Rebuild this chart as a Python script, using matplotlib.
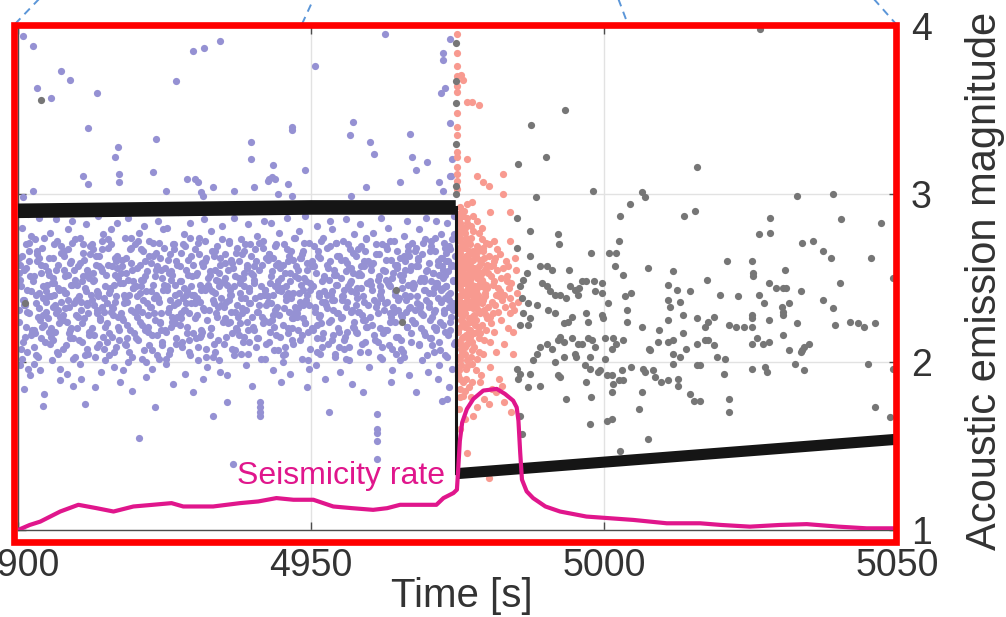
import matplotlib
matplotlib.use('Agg')
import matplotlib.pyplot as plt
from matplotlib.patches import Rectangle
from matplotlib.lines import Line2D

plt.rcParams['font.family'] = ['Liberation Sans', 'DejaVu Sans']

# ---------------- data ----------------
x_ticks = [4900, 4950, 5000, 5050]
y_ticks = [1, 2, 3, 4]

# shear stress proxy (black band)
stress_pre_t = [4900.0, 4925.0, 4950.0, 4974.7]
stress_pre_v = [2.90, 2.91, 2.92, 2.92]
drop_t = [4974.7, 4974.7]
drop_v = [2.92, 1.34]
stress_post_t = [4974.7, 5050.0]
stress_post_v = [1.335, 1.54]

# seismicity rate (magenta)
rate_t = [4900.0, 4902.0, 4903.8, 4905.5, 4907.2, 4910.3, 4913.4, 4916.3, 4919.7, 4923.0,
          4926.2, 4928.2, 4933.3, 4937.9, 4941.0, 4944.1, 4947.0, 4950.4, 4953.8, 4957.0,
          4960.6, 4963.0, 4965.2, 4968.5, 4971.4, 4972.6, 4974.3, 4974.9, 4975.1, 4975.4,
          4975.8, 4976.6, 4977.7, 4979.4, 4981.7, 4983.1, 4984.5, 4985.1, 4985.4, 4985.7,
          4986.0, 4986.8, 4987.9, 4990.0, 4992.5, 4997.0, 5001.0, 5005.0, 5010.7, 5016.4,
          5020.0, 5024.9, 5030.0, 5034.6, 5040.0, 5044.8, 5050.0]
rate_v = [1.00, 1.03, 1.05, 1.08, 1.11, 1.15, 1.13, 1.11, 1.14, 1.15,
          1.16, 1.14, 1.14, 1.16, 1.17, 1.19, 1.18, 1.18, 1.14, 1.13,
          1.12, 1.13, 1.15, 1.15, 1.15, 1.19, 1.22, 1.24, 1.35, 1.53,
          1.64, 1.72, 1.78, 1.83, 1.84, 1.81, 1.77, 1.73, 1.65, 1.46,
          1.30, 1.23, 1.19, 1.14, 1.11, 1.08, 1.07, 1.06, 1.04, 1.04,
          1.03, 1.02, 1.03, 1.035, 1.02, 1.01, 1.01]

# acoustic emission events before the slip (purple), first set
purple_t = [
 4900.1,4900.2,4900.4,4900.5,4900.6,4900.8,4900.9,4901.0,4901.1,4901.3,4901.4,4901.5,4901.6,4901.8,4901.9,4902.0,4902.1,4902.3,4902.4,4900.3,4900.7,4901.2,4901.7,4902.2,
 4902.6,4902.7,4902.9,4903.0,4903.1,4903.3,4903.4,4903.5,4903.6,4903.8,4903.9,4904.0,4904.1,4904.3,4904.4,4904.5,4904.6,4904.8,4904.9,4902.8,4903.2,4903.7,4904.2,4904.7,
 4905.1,4905.2,4905.4,4905.5,4905.6,4905.8,4905.9,4906.0,4906.1,4906.3,4906.4,4906.5,4906.6,4906.8,4906.9,4907.0,4907.1,4907.3,4907.4,4905.3,4905.7,4906.2,4906.7,4907.2,
 4907.6,4907.7,4907.9,4908.0,4908.1,4908.3,4908.4,4908.5,4908.6,4908.8,4908.9,4909.0,4909.1,4909.3,4909.4,4909.5,4909.6,4909.8,4909.9,4907.8,4908.2,4908.7,4909.2,4909.7,
 4910.1,4910.2,4910.4,4910.5,4910.6,4910.8,4910.9,4911.0,4911.1,4911.3,4911.4,4911.5,4911.6,4911.8,4911.9,4912.0,4912.1,4912.3,4912.4,4910.3,4910.7,4911.2,4911.7,4912.2,
 4912.6,4912.7,4912.9,4913.0,4913.1,4913.3,4913.4,4913.5,4913.6,4913.8,4913.9,4914.0,4914.1,4914.3,4914.4,4914.5,4914.6,4914.8,4914.9,4912.8,4913.2,4913.7,4914.2,4914.7,
 4915.1,4915.2,4915.4,4915.5,4915.6,4915.8,4915.9,4916.0,4916.1,4916.3,4916.4,4916.5,4916.6,4916.8,4916.9,4917.0,4917.1,4917.3,4917.4,4915.3,4915.7,4916.2,4916.7,4917.2,
 4917.6,4917.7,4917.9,4918.0,4918.1,4918.3,4918.4,4918.5,4918.6,4918.8,4918.9,4919.0,4919.1,4919.3,4919.4,4919.5,4919.6,4919.8,4919.9,4917.8,4918.2,4918.7,4919.2,4919.7,
 4920.1,4920.2,4920.4,4920.5,4920.6,4920.8,4920.9,4921.0,4921.1,4921.3,4921.4,4921.5,4921.6,4921.8,4921.9,4922.0,4922.1,4922.3,4922.4,4920.3,4920.7,4921.2,4921.7,4922.2,
 4922.6,4922.7,4922.9,4923.0,4923.1,4923.3,4923.4,4923.5,4923.6,4923.8,4923.9,4924.0,4924.1,4924.3,4924.4,4924.5,4924.6,4924.8,4924.9,4922.8,4923.2,4923.7,4924.2,4924.7,
 4925.1,4925.2,4925.4,4925.5,4925.6,4925.8,4925.9,4926.0,4926.1,4926.3,4926.4,4926.5,4926.6,4926.8,4926.9,4927.0,4927.1,4927.3,4927.4,4925.3,4925.7,4926.2,4926.7,4927.2,
 4927.6,4927.7,4927.9,4928.0,4928.1,4928.3,4928.4,4928.5,4928.6,4928.8,4928.9,4929.0,4929.1,4929.3,4929.4,4929.5,4929.6,4929.8,4929.9,4927.8,4928.2,4928.7,4929.2,4929.7,
 4930.1,4930.2,4930.4,4930.5,4930.6,4930.8,4930.9,4931.0,4931.1,4931.3,4931.4,4931.5,4931.6,4931.8,4931.9,4932.0,4932.1,4932.3,4932.4,4930.3,4930.7,4931.2,4931.7,4932.2,
 4932.6,4932.7,4932.9,4933.0,4933.1,4933.3,4933.4,4933.5,4933.6,4933.8,4933.9,4934.0,4934.1,4934.3,4934.4,4934.5,4934.6,4934.8,4934.9,4932.8,4933.2,4933.7,4934.2,4934.7,
 4935.1,4935.2,4935.4,4935.5,4935.6,4935.8,4935.9,4936.0,4936.1,4936.7,4936.4,4936.5,4936.6,4936.8,4936.9,4937.0,4937.1,4937.3,4937.4,4935.3,4935.7,4936.2,4936.3,4937.2,
 4937.6,4937.7,4937.9,4938.0,4938.1,4938.3,4938.4,4938.5,4938.6,4938.8,4938.9,4939.0,4939.1,4939.3,4939.4,4939.5,4939.6,4939.8,4939.9,4937.8,4938.2,4938.7,4939.2,4939.7,
 4940.1,4940.2,4940.4,4940.5,4940.6,4940.8,4940.9,4941.3,4941.3,4941.3,4941.3,4941.5,4941.6,4941.8,4941.9,4942.0,4942.1,4942.3,4942.4,4940.3,4940.7,4941.2,4941.7,4942.2,
 4942.6,4942.7,4942.9,4943.0,4943.1,4943.3,4943.4,4943.5,4943.6,4943.8,4943.9,4944.0,4944.1,4944.3,4944.4,4944.5,4944.6,4944.8,4944.9,4942.8,4943.2,4943.7,4944.2,4944.7,
 4945.1,4945.2,4945.4,4945.5,4945.6,4945.8,4945.9,4946.0,4946.1,4946.3,4946.4,4946.5,4946.6,4946.8,4946.9,4947.0,4947.1,4947.3,4947.4,4945.3,4945.7,4946.2,4946.7,4947.2,
 4947.6,4947.7,4947.9,4948.0,4948.1,4948.3,4948.4,4948.5,4948.6,4948.8,4948.9,4949.0,4949.1,4949.3,4949.4,4949.5,4949.6,4949.8,4949.9,4947.8,4948.2,4948.7,4949.2,4949.7,
 4950.1,4950.2,4950.4,4950.5,4950.6,4950.8,4950.9,4951.0,4951.1,4951.3,4951.4,4951.5,4951.6,4951.8,4951.9,4952.0,4952.1,4952.3,4952.4,4950.3,4950.7,4951.2,4951.7,4952.2,
 4952.6,4952.7,4952.9,4953.0,4953.1,4953.3,4953.4,4953.5,4953.6,4953.8,4953.9,4954.0,4954.1,4954.3,4954.4,4954.5,4954.6,4954.8,4954.9,4952.8,4953.2,4953.7,4954.2,4954.7,
 4955.1,4955.2,4955.4,4955.5,4955.6,4955.8,4955.9,4956.0,4956.1,4956.3,4956.4,4956.5,4956.6,4956.8,4956.9,4957.0,4957.1,4957.3,4957.4,4955.3,4955.7,4956.2,4956.7,4957.2,
 4957.6,4957.7,4957.9,4958.0,4958.1,4958.3,4958.4,4958.5,4958.6,4958.8,4958.9,4959.0,4959.1,4959.3,4959.4,4959.5,4959.6,4959.8,4959.9,4957.8,4958.2,4958.7,4959.2,4959.7,
 4960.1,4960.2,4960.4,4961.2,4961.2,4961.2,4961.2,4961.2,4961.1,4961.3,4961.4,4961.5,4961.6,4961.8,4961.9,4962.0,4962.1,4962.3,4962.4,4960.3,4960.7,4960.5,4961.7,4962.2,
 4962.6,4962.7,4962.9,4963.0,4963.1,4963.3,4963.4,4963.5,4963.6,4963.8,4963.9,4964.0,4964.1,4964.3,4964.4,4964.5,4964.6,4964.8,4964.9,4962.8,4963.2,4963.7,4964.2,4964.7,
 4965.1,4965.2,4965.4,4965.5,4965.6,4965.8,4965.9,4966.0,4966.1,4966.3,4966.4,4966.5,4966.6,4966.8,4966.9,4967.0,4967.1,4967.3,4967.4,4965.3,4965.7,4966.2,4966.7,4967.2,
 4967.6,4967.7,4967.9,4968.0,4968.1,4968.3,4968.4,4968.5,4968.6,4968.8,4968.9,4969.0,4969.1,4969.3,4969.4,4969.5,4969.6,4969.8,4969.9,4967.8,4968.2,4968.7,4969.2,4969.7,
 4970.1,4970.2,4970.3,4970.4,4970.5,4970.6,4972.3,4970.8,4970.9,4971.0,4971.1,4971.2,4971.3,4971.4,4971.5,4971.6,4971.7,4971.8,4971.9,4972.0,4972.1,4972.2,4970.7,4972.4,4970.15,4970.55,4970.95,4971.35,4971.75,4972.15,
 4972.5,4972.6,4972.7,4972.8,4972.9,4973.0,4973.1,4973.2,4973.3,4973.4,4973.5,4973.6,4973.7,4973.8,4973.9,4974.0,4974.1,4974.2,4974.3,4974.4,4974.5,4974.6,4972.55,4972.75,4972.95,4973.15,4973.35,4973.55,4973.75,4973.95,4974.15,4974.35,
]
purple_m = [
 2.31,2.62,1.98,2.45,2.80,2.12,2.37,2.55,1.84,2.70,2.21,2.43,2.06,2.66,2.29,2.51,1.92,2.75,2.18,2.58,2.02,2.34,2.88,2.16,
 2.48,2.19,2.73,2.35,2.04,2.60,2.27,2.86,2.41,1.95,2.53,2.14,2.68,2.38,2.22,1.81,2.57,2.30,2.46,2.09,2.64,2.25,1.74,2.42,
 2.26,2.54,2.11,2.77,2.39,2.01,2.62,2.33,2.47,2.18,2.85,2.29,2.06,2.58,2.44,2.23,1.89,2.69,2.36,2.52,2.15,2.40,2.72,1.96,
 2.43,2.08,2.66,2.32,2.51,1.93,2.24,2.79,2.37,2.14,2.59,2.46,2.20,2.71,1.86,2.35,2.55,2.03,2.28,2.63,2.41,2.17,2.84,2.49,
 2.20,2.57,2.39,1.99,2.74,2.31,2.48,2.12,2.65,2.26,1.75,2.44,2.82,2.35,2.05,2.53,2.18,2.69,2.40,2.27,1.90,2.61,2.34,2.50,
 2.37,2.70,2.16,2.49,2.03,2.58,2.29,2.42,2.87,2.11,2.63,2.25,1.94,2.54,2.33,2.76,2.08,2.45,2.21,2.67,1.85,2.39,2.56,2.30,
 2.52,2.23,2.68,2.04,2.41,2.79,2.30,2.15,2.57,1.97,2.46,2.36,2.62,2.09,2.83,2.27,2.50,2.19,1.88,2.73,2.43,2.32,2.60,2.13,
 2.29,2.61,1.95,2.47,2.35,2.74,2.10,2.53,2.22,2.86,2.40,2.06,2.67,2.31,1.83,2.55,2.44,2.17,2.70,2.26,2.38,2.00,2.59,2.48,
 2.45,2.14,2.72,2.33,1.55,2.58,2.24,2.49,2.02,2.66,2.37,2.81,2.19,2.42,1.91,2.54,2.28,2.63,2.10,2.39,2.77,2.30,2.51,2.21,
 2.33,2.59,2.07,2.46,2.71,2.25,1.73,2.40,2.55,2.16,2.84,2.36,2.02,2.62,2.29,2.50,2.12,2.43,2.68,1.96,2.38,2.57,2.23,2.79,
 2.56,2.18,2.43,2.80,2.30,2.05,2.64,2.37,2.21,2.52,1.87,2.70,2.34,2.46,2.11,2.60,2.27,2.89,2.41,1.99,2.53,2.24,2.67,2.35,
 2.22,2.48,2.65,2.09,2.38,2.76,2.31,1.93,2.55,2.42,2.17,2.61,2.29,2.83,2.04,2.45,2.35,2.58,1.82,2.26,2.70,2.40,2.13,2.51,
 2.40,2.67,2.14,2.53,2.28,2.01,2.74,2.36,2.46,2.19,2.59,2.32,1.90,2.85,2.43,2.08,2.62,2.25,2.50,2.37,2.71,2.16,2.44,1.97,
 2.31,2.54,2.20,2.78,2.42,1.68,2.63,2.35,2.06,2.49,2.27,2.69,2.13,2.45,2.58,1.94,2.38,2.81,2.24,2.52,2.03,2.66,2.33,2.47,
 2.48,2.11,2.64,2.36,1.76,2.55,2.23,2.72,2.40,1.39,2.30,2.59,2.17,2.45,2.86,2.07,2.51,2.34,2.68,2.26,1.92,2.43,2.61,2.20,
 2.27,2.60,2.41,2.05,2.73,2.32,2.50,2.15,2.66,2.38,1.98,2.56,2.24,2.82,2.44,2.12,2.35,2.63,1.86,2.47,2.29,2.70,2.19,2.53,
 2.52,2.19,2.67,2.38,2.09,2.75,2.30,1.76,1.73,1.70,1.68,2.45,2.58,2.23,2.84,2.40,2.02,2.62,2.34,2.49,2.14,2.71,2.27,2.43,
 2.36,2.61,2.12,2.47,2.83,2.25,2.54,1.95,2.40,2.69,2.31,2.16,2.58,2.43,2.07,2.77,2.28,2.50,1.88,2.64,2.35,2.21,2.46,2.56,
 2.44,2.22,2.70,2.05,2.53,2.37,2.86,2.17,2.60,2.30,1.93,2.48,2.66,2.26,2.41,2.11,2.74,2.33,2.57,2.00,2.39,2.63,2.20,2.51,
 2.29,2.55,2.41,2.78,2.13,2.46,2.02,2.64,2.34,2.50,2.23,2.87,2.37,1.85,2.59,2.18,2.71,2.43,2.08,2.32,2.62,2.26,2.48,1.96,
 2.57,2.20,2.45,2.69,2.32,1.98,2.53,2.14,2.81,2.39,2.27,2.62,2.05,2.48,2.36,2.74,2.17,2.42,1.90,2.58,2.30,2.66,2.23,2.51,
 2.34,2.68,2.11,2.49,1.70,2.60,2.25,2.42,2.79,2.16,2.55,2.37,2.03,2.71,2.29,2.46,2.20,2.63,1.94,2.40,2.84,2.31,2.52,2.09,
 2.50,2.26,2.72,2.39,2.08,2.61,2.33,2.85,2.18,2.45,2.56,2.01,2.67,2.30,2.42,1.87,2.53,2.24,2.76,2.37,2.13,2.59,2.47,2.21,
 2.41,2.63,2.17,2.52,2.30,2.82,2.06,2.44,2.69,2.25,1.82,2.57,2.36,2.12,2.74,2.47,2.21,2.60,1.97,2.38,2.53,2.28,2.66,2.34,
 2.27,2.58,2.43,1.69,1.60,1.58,1.53,1.42,2.70,2.35,2.12,2.49,2.64,2.20,2.86,2.38,2.02,2.55,2.31,2.46,2.16,2.77,2.40,2.09,
 2.54,2.19,2.67,2.36,2.80,2.10,2.45,2.29,2.61,1.95,2.50,2.33,2.72,2.24,2.42,2.05,2.58,2.37,2.15,2.69,2.47,1.88,2.30,2.56,
 2.38,2.62,2.13,2.49,2.27,2.75,2.03,2.55,2.40,2.84,2.21,2.46,2.66,1.92,2.33,2.57,2.17,2.71,2.44,2.08,2.52,2.30,2.63,2.25,
 2.46,2.23,2.68,1.82,2.39,2.57,2.11,2.79,2.34,2.50,2.01,2.64,2.28,2.43,2.16,2.73,2.37,2.55,1.94,2.31,2.61,2.20,2.48,2.86,
 2.35,2.59,2.14,2.48,2.72,2.27,1.77,2.53,2.41,2.06,2.66,2.31,2.84,2.19,2.45,2.38,2.60,1.98,2.52,2.24,2.76,2.43,2.10,2.57,2.33,2.69,2.21,2.47,1.90,2.62,
 2.50,2.22,2.71,2.38,2.04,2.60,2.45,2.83,2.16,2.54,2.33,1.85,2.67,2.41,2.27,2.58,1.96,2.48,2.35,2.76,2.12,2.63,2.44,2.29,2.52,1.78,2.40,2.69,2.19,2.57,2.31,2.87,
]

# purple events, second set (dense core)
purple2_t = [
 4900.15,4900.35,4900.55,4900.75,4900.95,4901.15,4901.35,4901.55,4901.75,4901.95,4902.15,4902.35,4900.25,4901.05,4901.85,
 4902.65,4902.85,4903.05,4903.25,4903.45,4903.65,4903.85,4904.05,4904.25,4904.45,4904.65,4904.85,4902.75,4903.55,4904.35,
 4905.15,4905.35,4905.55,4905.75,4905.95,4906.15,4906.35,4906.55,4906.75,4906.95,4907.15,4907.35,4905.25,4906.05,4906.85,
 4907.65,4907.85,4908.05,4908.25,4908.45,4908.65,4908.85,4909.05,4909.25,4909.45,4909.65,4909.85,4907.75,4908.55,4909.35,
 4910.15,4910.35,4910.55,4910.75,4910.95,4911.15,4911.35,4911.55,4911.75,4911.95,4912.15,4912.35,4910.25,4911.05,4911.85,
 4912.65,4912.85,4913.05,4913.25,4913.45,4913.65,4913.85,4914.05,4914.25,4914.45,4914.65,4914.85,4912.75,4913.55,4914.35,
 4915.15,4915.35,4915.55,4915.75,4915.95,4916.15,4916.35,4916.55,4916.75,4916.95,4917.15,4917.35,4915.25,4916.05,4916.85,
 4917.65,4917.85,4918.05,4918.25,4918.45,4918.65,4918.85,4919.05,4919.25,4919.45,4919.65,4919.85,4917.75,4918.55,4919.35,
 4920.15,4920.35,4920.55,4920.75,4920.95,4921.15,4921.35,4921.55,4921.75,4921.95,4922.15,4922.35,4920.25,4921.05,4921.85,
 4922.65,4922.85,4923.05,4923.25,4923.45,4923.65,4923.85,4924.05,4924.25,4924.45,4924.65,4924.85,4922.75,4923.55,4924.35,
 4925.15,4925.35,4925.55,4925.75,4925.95,4926.15,4926.35,4926.55,4926.75,4926.95,4927.15,4927.35,4925.25,4926.05,4926.85,
 4927.65,4927.85,4928.05,4928.25,4928.45,4928.65,4928.85,4929.05,4929.25,4929.45,4929.65,4929.85,4927.75,4928.55,4929.35,
 4930.15,4930.35,4930.55,4930.75,4930.95,4931.15,4931.35,4931.55,4931.75,4931.95,4932.15,4932.35,4930.25,4931.05,4931.85,
 4932.65,4932.85,4933.05,4933.25,4933.45,4933.65,4933.85,4934.05,4934.25,4934.45,4934.65,4934.85,4932.75,4933.55,4934.35,
 4935.15,4935.35,4935.55,4935.75,4935.95,4936.15,4936.35,4936.55,4936.75,4936.95,4937.15,4937.35,4935.25,4936.05,4936.85,
 4937.65,4937.85,4938.05,4938.25,4938.45,4938.65,4938.85,4939.05,4939.25,4939.45,4939.65,4939.85,4937.75,4938.55,4939.35,
 4940.15,4940.35,4940.55,4940.75,4940.95,4941.15,4941.35,4941.55,4941.75,4941.95,4942.15,4942.35,4940.25,4941.05,4941.85,
 4942.65,4942.85,4943.05,4943.25,4943.45,4943.65,4943.85,4944.05,4944.25,4944.45,4944.65,4944.85,4942.75,4943.55,4944.35,
 4945.15,4945.35,4945.55,4945.75,4945.95,4946.15,4946.35,4946.55,4946.75,4946.95,4947.15,4947.35,4945.25,4946.05,4946.85,
 4947.65,4947.85,4948.05,4948.25,4948.45,4948.65,4948.85,4949.05,4949.25,4949.45,4949.65,4949.85,4947.75,4948.55,4949.35,
 4950.15,4950.35,4950.55,4950.75,4950.95,4951.15,4951.35,4951.55,4951.75,4951.95,4952.15,4952.35,4950.25,4951.05,4951.85,
 4952.65,4952.85,4953.05,4953.25,4953.45,4953.65,4953.85,4954.05,4954.25,4954.45,4954.65,4954.85,4952.75,4953.55,4954.35,
 4955.15,4955.35,4955.55,4955.75,4955.95,4956.15,4956.35,4956.55,4956.75,4956.95,4957.15,4957.35,4955.25,4956.05,4956.85,
 4957.65,4957.85,4958.05,4958.25,4958.45,4958.65,4958.85,4959.05,4959.25,4959.45,4959.65,4959.85,4957.75,4958.55,4959.35,
 4960.15,4960.35,4960.55,4960.75,4960.95,4961.15,4961.35,4961.55,4961.75,4961.95,4962.15,4962.35,4960.25,4961.05,4961.85,
 4962.65,4962.85,4963.05,4963.25,4963.45,4963.65,4963.85,4964.05,4964.25,4964.45,4964.65,4964.85,4962.75,4963.55,4964.35,
 4965.15,4965.35,4965.55,4965.75,4965.95,4966.15,4966.35,4966.55,4966.75,4966.95,4967.15,4967.35,4965.25,4966.05,4966.85,
 4967.65,4967.85,4968.05,4968.25,4968.45,4968.65,4968.85,4969.05,4969.25,4969.45,4969.65,4969.85,4967.75,4968.55,4969.35,
 4970.15,4970.35,4970.55,4970.75,4970.95,4971.15,4971.35,4971.55,4971.75,4971.95,4972.15,4972.35,4970.25,4971.05,4971.85,
 4972.6,4972.7,4972.8,4972.9,4973.0,4973.2,4973.4,4973.6,4973.8,4974.0,4974.2,4974.4,4974.5,4974.6,4973.1,
]
purple2_m = [
 2.24,2.49,2.08,2.63,2.37,2.15,2.56,2.30,1.96,2.71,2.42,2.19,2.53,2.34,2.60,
 2.51,2.17,2.40,2.66,2.03,2.32,2.58,2.21,2.45,2.74,2.12,2.36,1.99,2.62,2.28,
 2.39,2.62,2.20,2.47,2.13,2.70,2.34,2.55,2.05,2.43,2.27,2.65,2.18,2.50,2.31,
 2.28,2.55,2.41,2.10,2.67,2.33,2.19,2.60,2.46,2.02,2.73,2.37,2.25,2.52,2.14,
 2.46,2.13,2.59,2.36,2.23,2.70,2.04,2.42,2.55,2.29,2.16,2.64,2.38,2.51,2.08,
 2.20,2.48,2.34,2.63,2.09,2.41,2.57,2.26,2.72,2.15,2.38,2.01,2.53,2.31,2.67,
 2.35,2.58,2.17,2.44,2.70,2.28,2.06,2.52,2.39,2.63,2.21,2.47,2.12,2.33,2.56,
 2.53,2.25,2.40,2.11,2.62,2.36,2.49,2.19,2.74,2.03,2.44,2.30,2.57,2.14,2.68,
 2.30,2.56,2.13,2.41,2.67,2.22,2.49,2.07,2.60,2.35,2.18,2.72,2.27,2.45,2.00,
 2.42,2.16,2.63,2.29,2.51,2.04,2.38,2.71,2.24,2.55,2.10,2.46,2.33,2.65,2.19,
 2.19,2.45,2.61,2.32,2.07,2.54,2.27,2.70,2.40,2.14,2.58,2.36,2.02,2.49,2.23,
 2.57,2.29,2.12,2.44,2.69,2.35,2.21,2.52,2.06,2.63,2.40,2.17,2.48,2.31,2.74,
 2.26,2.52,2.38,2.09,2.64,2.43,2.18,2.57,2.31,2.72,2.03,2.46,2.35,2.15,2.60,
 2.44,2.20,2.66,2.37,2.11,2.55,2.29,2.48,2.01,2.62,2.34,2.73,2.16,2.41,2.53,
 2.33,2.59,2.15,2.46,2.71,2.24,2.40,2.08,2.56,2.30,2.65,2.19,2.50,2.37,2.04,
 2.50,2.23,2.38,2.64,2.12,2.45,2.31,2.58,2.05,2.42,2.70,2.27,2.16,2.53,2.35,
 2.21,2.47,2.60,2.30,2.14,2.55,2.39,2.02,2.68,2.25,2.43,2.11,2.57,2.34,2.72,
 2.39,2.64,2.18,2.51,2.28,2.07,2.45,2.70,2.33,2.59,2.15,2.42,2.24,2.62,2.48,
 2.58,2.32,2.09,2.45,2.67,2.20,2.53,2.38,2.13,2.61,2.29,2.74,2.04,2.41,2.26,
 2.27,2.50,2.36,2.62,2.16,2.43,2.71,2.23,2.55,2.01,2.34,2.47,2.19,2.66,2.40,
 2.45,2.19,2.57,2.33,2.06,2.63,2.41,2.28,2.72,2.14,2.50,2.36,2.60,2.22,2.09,
 2.32,2.56,2.24,2.69,2.40,2.13,2.52,2.05,2.46,2.63,2.29,2.18,2.58,2.37,2.71,
 2.61,2.27,2.43,2.15,2.54,2.36,2.70,2.09,2.48,2.31,2.65,2.20,2.39,2.02,2.56,
 2.18,2.44,2.67,2.30,2.52,2.11,2.39,2.60,2.25,2.73,2.06,2.47,2.34,2.57,2.21,
 2.48,2.22,2.59,2.37,2.13,2.64,2.29,2.51,2.03,2.42,2.70,2.17,2.55,2.33,2.45,
 2.35,2.61,2.19,2.46,2.72,2.27,2.08,2.53,2.40,2.15,2.66,2.31,2.49,2.24,2.58,
 2.52,2.28,2.44,2.06,2.63,2.37,2.21,2.69,2.32,2.55,2.12,2.47,2.01,2.60,2.39,
 2.23,2.57,2.35,2.62,2.10,2.48,2.29,2.71,2.18,2.43,2.54,2.04,2.66,2.33,2.50,
 2.41,2.66,2.14,2.53,2.30,2.74,2.20,2.47,2.58,2.07,2.36,2.62,2.25,2.44,2.12,
 2.55,2.31,2.68,2.18,2.45,2.03,2.60,2.37,2.24,2.73,2.49,2.11,2.57,2.34,2.65,
]

# purple events above the stress band
purple_high = [
 (4900.8,3.94),(4902.6,3.88),(4903.3,3.63),(4905.6,3.57),(4907.3,3.73),(4908.9,3.68),(4913.5,3.60),
 (4912.0,3.39),(4916.6,3.22),(4917.1,3.28),(4917.2,3.12),(4917.3,3.07),(4911.1,3.11),(4912.0,3.06),
 (4902.5,3.02),(4900.8,2.98),(4923.5,3.33),(4923.1,3.13),(4927.0,3.67),(4929.8,3.85),(4931.7,3.87),
 (4934.5,3.91),(4925.3,3.02),(4928.9,3.09),(4930.2,3.09),(4930.8,3.07),(4931.3,3.01),(4931.5,2.99),
 (4933.2,3.04),(4936.9,3.02),(4939.8,3.31),(4939.8,3.21),(4940.2,3.04),(4942.6,3.08),(4942.9,3.09),
 (4943.3,3.10),(4943.6,3.17),(4943.8,3.09),(4944.4,3.00),(4946.0,3.06),(4946.7,3.40),(4946.8,3.38),
 (4946.8,2.99),(4949.0,3.14),(4950.7,3.76),(4956.7,3.35),(4957.1,3.43),(4956.8,2.99),(4959.4,3.04),
 (4960.0,3.31),(4960.7,3.24),(4962.7,3.95),(4965.2,3.07),(4966.9,3.36),(4967.2,3.22),(4967.9,3.14),
 (4969.8,3.19),(4971.8,3.07),(4972.1,3.60),(4972.9,3.63),(4972.5,3.80),(4972.6,3.84),(4973.7,3.92),
 (4973.7,3.42),(4974.0,3.21),(4973.8,3.11),(4973.9,3.11),(4972.6,3.02),
]

# events during the slip (salmon)
salmon_pts = [
 (4974.9,3.95),(4974.9,3.84),(4975.0,3.76),(4974.9,3.70),(4975.0,3.64),(4974.9,3.61),(4975.0,3.48),
 (4974.9,3.40),(4975.0,3.35),(4974.9,3.25),(4975.0,3.22),(4974.9,3.16),(4975.0,3.12),(4974.9,3.08),(4975.0,3.03),
 (4975.6,3.71),(4975.9,3.68),(4976.6,3.55),(4977.5,3.55),(4978.7,3.53),(4976.7,3.21),(4978.3,3.11),
 (4979.4,3.07),(4980.3,3.05),(4982.8,3.12),(4982.8,3.00),(4977.5,2.95),(4976.6,2.94),(4980.5,2.89),
 (4984.0,2.89),(4979.1,2.73),(4981.2,2.72),(4984.0,2.72),
 (4975.1,2.88),(4975.2,2.45),(4975.3,2.12),(4975.1,2.67),(4975.4,2.31),(4975.2,1.95),(4975.5,2.78),
 (4975.3,2.54),(4975.6,2.08),(4975.1,2.36),(4975.7,2.61),(4975.4,2.83),(4975.8,2.22),(4975.2,2.49),
 (4975.9,1.88),(4975.5,2.72),(4975.3,2.03),(4976.0,2.40),(4975.6,2.57),(4975.1,2.18),(4975.7,2.90),
 (4975.4,1.79),(4975.2,2.63),(4975.8,2.27),(4975.5,2.44),(4975.9,2.70),(4975.3,2.85),(4975.6,1.98),
 (4975.1,2.52),(4976.0,2.15),(4975.4,2.59),(4975.7,2.34),(4975.2,2.76),(4975.8,2.06),(4975.5,2.92),
 (4975.3,2.29),(4975.9,2.50),(4975.6,2.81),(4975.1,1.92),(4975.4,2.65),(4975.7,2.10),(4975.2,2.38),
 (4975.8,2.56),(4975.5,1.84),(4976.0,2.24),
 (4976.1,2.47),(4976.2,2.80),(4976.3,2.21),(4976.4,2.63),(4976.5,1.96),(4976.6,2.39),(4976.7,2.71),
 (4976.8,2.14),(4976.9,2.55),(4977.0,2.33),(4976.1,2.90),(4976.3,2.05),(4976.5,2.48),(4976.7,2.86),
 (4976.9,2.26),(4976.2,2.68),(4976.4,1.90),(4976.6,2.42),(4976.8,2.60),(4977.0,2.19),(4976.1,2.35),
 (4976.3,2.77),(4976.5,2.52),(4976.7,2.01),(4976.9,2.66),(4976.2,2.29),(4976.4,2.58),(4976.6,2.11),
 (4976.8,2.44),(4976.3,1.83),(4976.5,2.74),(4976.7,2.37),(4976.9,2.50),(4976.4,2.16),(4976.6,2.62),
 (4977.1,2.58),(4977.2,2.24),(4977.3,2.81),(4977.4,2.40),(4977.5,2.07),(4977.6,2.66),(4977.7,2.32),
 (4977.8,2.53),(4977.9,2.17),(4978.0,2.45),(4977.1,2.36),(4977.3,2.74),(4977.5,2.12),(4977.7,2.61),
 (4977.9,2.28),(4977.2,2.49),(4977.4,1.99),(4977.6,2.87),(4977.8,2.38),(4978.0,2.22),(4977.1,2.70),
 (4977.3,2.03),(4977.5,2.55),(4977.7,2.43),(4977.9,2.64),(4977.2,2.19),(4977.4,2.51),(4977.6,2.34),
 (4977.8,2.09),(4977.5,1.88),
 (4978.1,2.42),(4978.2,2.63),(4978.3,2.18),(4978.4,2.55),(4978.5,2.31),(4978.6,2.77),(4978.7,2.06),
 (4978.8,2.47),(4978.9,2.36),(4979.0,2.59),(4978.1,2.25),(4978.3,2.69),(4978.5,2.40),(4978.7,2.14),
 (4978.9,2.52),(4978.2,2.33),(4978.4,2.84),(4978.6,2.21),(4978.8,2.61),(4979.0,2.45),(4978.2,1.95),
 (4978.5,2.38),(4978.7,2.57),(4978.4,2.02),(4978.9,2.29),
 (4979.1,2.49),(4979.2,2.22),(4979.3,2.66),(4979.4,2.37),(4979.5,2.54),(4979.6,2.13),(4979.7,2.44),
 (4979.8,2.71),(4979.9,2.28),(4980.0,2.58),(4979.1,2.35),(4979.3,2.05),(4979.5,2.62),(4979.7,2.41),
 (4979.9,2.19),(4979.2,2.80),(4979.4,2.47),(4979.6,2.31),(4979.8,2.56),(4980.0,2.26),
 (4980.1,2.44),(4980.3,2.63),(4980.5,2.27),(4980.7,2.51),(4980.9,2.36),(4981.1,2.58),(4981.3,2.18),
 (4981.5,2.40),(4981.7,2.67),(4981.9,2.30),(4980.2,2.53),(4980.6,2.12),(4981.0,2.46),(4981.4,2.34),
 (4981.8,2.55),(4980.4,2.70),(4980.8,2.23),(4981.2,2.48),(4981.6,2.06),(4982.0,2.39),(4980.5,1.97),
 (4981.3,2.60),
 (4982.2,2.42),(4982.5,2.25),(4982.8,2.56),(4983.1,2.33),(4983.4,2.48),(4983.7,2.20),(4984.0,2.38),
 (4982.3,2.64),(4982.9,2.11),(4983.5,2.51),(4984.0,2.29),(4982.6,2.37),(4983.2,2.60),(4983.8,2.44),
 (4984.2,2.47),(4984.6,2.31),(4985.0,2.55),(4985.3,2.36),(4984.4,2.18),(4984.8,2.62),(4985.1,2.41),
 (4984.5,2.05),
 (4976.6,1.46),(4980.4,1.31),(4977.7,1.68),(4984.2,1.70),(4978.4,1.73),(4979.5,1.78),(4980.4,1.75),
 (4976.0,1.80),(4977.0,1.85),(4981.5,1.82),(4983.0,1.76),(4982.0,1.90),(4975.5,1.60),(4975.3,1.72),
 (4976.2,1.66),(4978.9,1.88),(4980.9,1.84),(4982.6,1.86),(4977.3,1.79),(4979.0,1.92),
 (4975.15,2.58),(4975.25,2.20),(4975.35,2.74),(4975.45,2.01),(4975.55,2.47),(4975.65,2.30),(4975.75,2.68),
 (4975.85,2.14),(4975.95,2.53),(4975.15,2.86),(4975.25,2.39),(4975.35,1.90),(4975.45,2.62),(4975.55,2.25),
 (4975.65,2.79),(4975.75,2.04),(4975.85,2.42),(4975.95,2.87),(4975.2,2.33),(4975.4,2.11),(4975.6,2.69),
 (4975.8,2.35),(4976.15,2.56),(4976.35,2.32),(4976.55,2.83),(4976.75,2.23),(4976.95,2.45),(4976.25,2.09),
 (4976.45,2.70),(4976.65,2.51),(4976.85,1.98),(4977.05,2.64),(4977.25,2.42),(4977.45,2.27),(4977.65,2.78),
 (4977.85,2.56),(4977.15,2.15),(4977.55,2.46),(4977.95,2.35),(4978.25,2.50),(4978.55,2.66),(4978.85,2.17),
 (4978.35,2.44),(4978.75,2.30),(4979.25,2.53),(4979.65,2.39),(4979.35,2.68),(4979.85,2.46),(4980.25,2.33),
 (4980.65,2.57),(4981.05,2.29),(4981.45,2.62),(4981.85,2.44),(4982.4,2.50),(4983.0,2.40),(4983.6,2.57),
 (4984.3,2.34),
]

# events after the slip (gray)
gray_pts = [
 (4974.7,3.90),(4974.7,3.67),(4974.7,3.54),(4974.7,3.30),(4974.7,3.05),(4974.8,3.00),
 (4901.2,2.35),(4964.5,2.43),(4965.6,2.24),(4904.0,3.56),
 (4993.4,3.50),(4987.5,3.41),(4990.1,3.22),(4985.3,3.18),(4988.4,2.98),
 (4985.1,2.86),(4985.1,2.68),(4987.4,2.78),(4987.4,2.63),(4992.2,2.76),(4992.4,2.70),(4989.1,2.57),
 (4990.2,2.57),(4991.1,2.55),(4986.8,2.53),(4986.2,2.49),(4985.7,2.45),(4989.4,2.47),(4990.2,2.45),
 (4990.8,2.42),(4991.6,2.40),(4986.0,2.38),(4987.1,2.35),(4988.5,2.34),(4986.2,2.29),(4987.4,2.26),
 (4990.5,2.31),(4991.6,2.29),(4985.7,2.22),(4987.1,2.22),(4989.1,2.09),(4990.2,2.11),(4991.1,2.08),
 (4992.2,2.13),(4987.9,2.01),(4988.5,2.05),(4991.6,2.00),(4985.1,1.96),(4985.7,1.93),(4985.4,1.90),
 (4987.4,1.93),(4989.1,1.86),(4987.1,1.85),(4985.7,1.68),(4986.0,1.57),(4993.6,1.78),(4992.2,1.92),
 (5026.6,3.98),(5015.9,3.16),(4998.1,3.02),(5006.4,3.01),(5007.0,2.98),(5033.0,2.99),(5039.0,3.00),
 (5004.4,2.94),(5002.8,2.87),(5013.7,2.87),(5015.5,2.90),(5028.3,2.86),(5040.4,2.85),(5047.2,2.83),
 (5026.5,2.76),(5028.3,2.77),(5002.6,2.72),(5033.8,2.71),(5035.7,2.72),(4997.7,2.65),(5000.9,2.65),
 (5002.0,2.65),(5037.4,2.66),(5038.7,2.62),(5045.6,2.62),(5021.0,2.60),(5025.2,2.60),(5001.8,2.57),
 (5007.5,2.56),(5011.7,2.54),(4994.0,2.55),(5030.9,2.55),(5025.4,2.53),(5025.4,2.51),(5003.3,2.52),
 (5017.5,2.49),(5049.4,2.50),(4996.2,2.48),(4997.0,2.48),(4998.3,2.48),(4999.7,2.47),(5040.2,2.47),
 (5011.0,2.46),(5028.2,2.47),(5029.4,2.44),(5030.5,2.44),(5031.1,2.44),(5012.4,2.43),(5014.6,2.42),
 (5033.6,2.42),(4992.5,2.40),(4993.6,2.38),(4994.2,2.45),(4995.1,2.43),(4995.6,2.40),(4995.7,2.44),
 (4998.5,2.42),(4999.6,2.41),(5004.6,2.41),(5003.6,2.39),(5019.8,2.40),(5022.9,2.39),(5026.5,2.40),
 (5037.3,2.37),(5011.0,2.37),(5011.2,2.33),(5013.0,2.36),(5000.7,2.35),(5027.3,2.35),(5031.5,2.35),
 (5039.0,2.32),(5030.3,2.33),(5003.9,2.31),(4997.0,2.29),(4999.6,2.28),(4999.9,2.26),(5013.4,2.28),
 (5018.8,2.27),(5025.2,2.28),(5025.3,2.26),(5030.5,2.28),(5030.6,2.30),(4993.1,2.23),(4993.9,2.24),
 (4994.5,2.27),(4997.3,2.24),(5003.9,2.24),(5011.0,2.25),(5015.8,2.26),(5017.8,2.24),(5017.2,2.21),
 (5021.4,2.22),(5022.6,2.21),(5023.9,2.21),(5025.2,2.21),(5028.2,2.25),(5032.9,2.23),(5039.4,2.22),
 (5042.0,2.24),(5043.4,2.23),(5044.4,2.21),(5046.3,2.23),(5006.4,2.21),(5009.4,2.19),(5013.4,2.17),
 (5030.5,2.16),(4992.5,2.15),(4993.1,2.12),(4994.5,2.14),(4995.6,2.11),(4996.2,2.11),(4997.3,2.14),
 (4997.9,2.13),(4998.5,2.09),(4997.6,2.03),(5000.2,2.14),(5001.6,2.14),(5002.0,2.11),(5003.3,2.13),
 (5001.3,2.08),(5007.6,2.08),(5007.8,2.07),(5009.3,2.12),(5011.0,2.12),(5011.8,2.13),(5011.8,2.05),
 (5012.9,2.03),(5014.0,2.08),(5015.8,2.11),(5017.2,2.13),(5017.8,2.13),(5018.7,2.10),(5019.3,2.03),
 (5020.6,2.02),(5025.2,2.11),(5026.1,2.14),(5027.2,2.11),(5028.2,2.12),(5031.5,2.07),(5033.8,2.07),
 (5034.2,2.09),(5034.9,2.11),(5033.7,2.06),(4993.1,2.03),(4995.1,2.05),(4995.2,2.03),(5000.2,2.02),
 (4992.5,1.91),(4996.8,1.98),(4997.0,1.88),(4997.6,1.96),(4998.9,1.94),(4999.4,1.95),(5000.5,1.92),
 (5001.3,1.92),(5001.6,1.87),(5002.6,1.89),(5003.2,1.89),(5003.0,1.95),(5004.6,1.97),(5006.7,1.96),
 (5007.0,1.94),(5008.4,1.95),(5008.7,1.91),(5009.8,1.88),(5011.0,1.89),(5011.7,1.99),(5012.7,1.90),
 (5012.7,1.86),(5015.8,1.98),(5016.4,1.98),(5020.4,1.93),(5025.2,1.96),(5027.5,1.97),(5027.9,1.94),
 (5032.6,1.99),(5034.1,1.95),(5045.1,1.99),(5049.4,1.96),(4997.7,1.79),(4997.6,1.63),(5000.5,1.65),
 (5001.3,1.66),(5001.3,1.82),(5006.0,1.72),(5006.4,1.82),(5014.6,1.81),(5015.4,1.77),(5016.3,1.77),
 (5021.4,1.78),(5021.4,1.70),(5007.5,1.54),(5002.8,1.47),(5046.3,1.73),(5048.8,1.67),
]

# ---------------- figure ----------------
W, H = 1006, 617
fig = plt.figure(figsize=(W / 100, H / 100), dpi=100)
ax = fig.add_axes([18 / W, 1 - 530 / H, (897 - 18) / W, (530 - 26) / H])
ax.set_xlim(4900, 5050)
ax.set_ylim(1, 4)

ms = 27
purple = '#9591d3'
ax.scatter(purple_t, purple_m, s=ms, c=purple, linewidths=0, zorder=2)
ax.scatter(purple2_t, purple2_m, s=ms, c=purple, linewidths=0, zorder=2)
ax.scatter([p[0] for p in purple_high], [p[1] for p in purple_high], s=ms, c=purple, linewidths=0, zorder=2)
ax.scatter([p[0] for p in salmon_pts], [p[1] for p in salmon_pts], s=ms, c='#f89a90', linewidths=0, zorder=2)
ax.scatter([p[0] for p in gray_pts], [p[1] for p in gray_pts], s=ms, c='#767676', linewidths=0, zorder=2)

ax.plot(stress_pre_t, stress_pre_v, color='#151515', lw=10.5, solid_capstyle='butt', zorder=3)
ax.plot(drop_t, drop_v, color='#151515', lw=2.2, zorder=3)
ax.plot(stress_post_t, stress_post_v, color='#151515', lw=8, solid_capstyle='butt', zorder=3)

magenta = '#e0168c'
ax.plot(rate_t, rate_v, color=magenta, lw=3, zorder=4, solid_joinstyle='round')
ax.text(4972.8, 1.272, 'Seismicity rate', color=magenta, fontsize=23, ha='right', va='baseline', zorder=5)

ax.set_xticks(x_ticks)
ax.set_yticks(y_ticks)
ax.set_xticklabels([str(v) for v in x_ticks])
ax.set_yticklabels([str(v) for v in y_ticks])
ax.yaxis.tick_right()
ax.tick_params(axis='both', which='both', direction='in', length=6, width=1, color='#4d4d4d',
               labelsize=27, labelcolor='#333333', top=True, bottom=True, left=True, right=True,
               labelleft=False, labelright=True)
ax.tick_params(axis='x', pad=13)
ax.tick_params(axis='y', pad=10)
ax.grid(True, color='#e2e2e2', lw=1.0)
ax.set_axisbelow(True)
for sp in ax.spines.values():
    sp.set_color('#4d4d4d')
    sp.set_linewidth(1.0)

fig.text(462 / W, 1 - 607 / H, 'Time [s]', fontsize=29, color='#333333', ha='center', va='baseline')
fig.text(985 / W, 1 - 281 / H, 'Acoustic emission magnitude', fontsize=30, color='#333333',
         ha='center', va='center', rotation=90)

# red frame
rect = Rectangle((13.5 / W, 1 - 541.5 / H), (895.5 - 13.5) / W, (541.5 - 25) / H,
                 transform=fig.transFigure, fill=False, edgecolor='#ff0000', lw=4.8,
                 joinstyle='miter', zorder=10)
fig.add_artist(rect)

# dashed connector lines toward the inset above
for (x0, y0, x1, y1) in [(15, 24, 40, -2), (302, 24, 314, -2), (618, -2, 627, 22), (873, -2, 896, 24)]:
    fig.add_artist(Line2D([x0 / W, x1 / W], [1 - y0 / H, 1 - y1 / H], transform=fig.transFigure,
                          color='#5b96d8', lw=1.4, linestyle=(0, (4, 3)), zorder=9))

fig.savefig('out.png', dpi=100)
